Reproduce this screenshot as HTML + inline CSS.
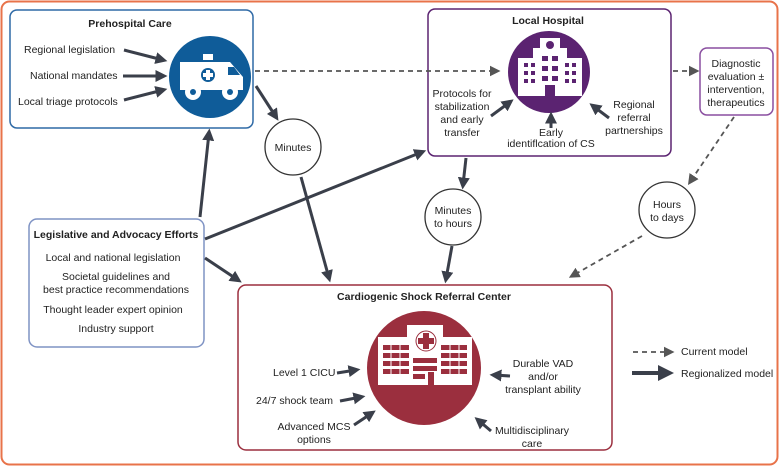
<!DOCTYPE html>
<html><head><meta charset="utf-8"><style>
html,body{margin:0;padding:0;background:#fff}
svg{display:block}
text{font-family:"Liberation Sans",sans-serif;font-size:10.5px;fill:#222}
.b{font-weight:bold}
</style></head><body>
<svg width="780" height="467" viewBox="0 0 780 467" xmlns="http://www.w3.org/2000/svg">
<defs>
<marker id="a" markerWidth="4" markerHeight="4" refX="2.5" refY="2" orient="auto" markerUnits="strokeWidth"><path d="M0,0 L4,2 L0,4 z" fill="#3a3f4a"/></marker>
<marker id="d" markerWidth="6" markerHeight="6" refX="4" refY="3" orient="auto" markerUnits="strokeWidth"><path d="M0,0 L6,3 L0,6 z" fill="#555"/></marker>
</defs>
<rect x="1.5" y="1.5" width="776" height="463" rx="8" fill="#fff" stroke="#e8734a" stroke-width="2"/>

<!-- Prehospital -->
<rect x="10" y="10" width="243" height="118" rx="7" fill="#fff" stroke="#2f6aa6" stroke-width="1.5"/>
<text x="130" y="27" text-anchor="middle" class="b">Prehospital Care</text>
<text x="24" y="53">Regional legislation</text>
<text x="30" y="79">National mandates</text>
<text x="18" y="105">Local triage protocols</text>
<circle cx="210" cy="77" r="41" fill="#0f5c99"/>
<g fill="#fff">
<path d="M180,62 h50 l13,15 v13 h-63z"/>
<rect x="203" y="54" width="10" height="6"/>
<circle cx="193" cy="92" r="8"/><circle cx="230" cy="92" r="8"/>
</g>
<circle cx="193" cy="92" r="3" fill="#0f5c99"/><circle cx="230" cy="92" r="3" fill="#0f5c99"/>
<circle cx="208" cy="75" r="7" fill="#0f5c99"/>
<path d="M206,70h4v3h3v4h-3v3h-4v-3h-3v-4h3z" fill="#fff"/>
<path d="M228,67h6l6,8h-12z" fill="#0f5c99"/>
<g stroke="#3a3f4a" stroke-width="3" fill="none" marker-end="url(#a)">
<line x1="124" y1="50" x2="163" y2="60"/>
<line x1="123" y1="76" x2="163" y2="76"/>
<line x1="124" y1="100" x2="163" y2="90"/>
</g>

<!-- Local Hospital -->
<rect x="428" y="9" width="243" height="147" rx="7" fill="#fff" stroke="#5b2371" stroke-width="1.5"/>
<text x="548" y="24" text-anchor="middle" class="b">Local Hospital</text>
<circle cx="549" cy="72" r="41" fill="#5b2371"/>
<g fill="#fff"><rect x="540" y="38" width="20" height="12"/><rect x="533" y="48" width="34" height="48"/><rect x="518" y="58" width="64" height="38"/></g>
<circle cx="550" cy="45" r="4" fill="#5b2371"/>
<g fill="#5b2371"><rect x="524" y="63" width="4" height="4"/><rect x="531" y="63" width="4" height="4"/><rect x="524" y="71" width="4" height="4"/><rect x="531" y="71" width="4" height="4"/><rect x="524" y="79" width="4" height="4"/><rect x="531" y="79" width="4" height="4"/><rect x="565" y="63" width="4" height="4"/><rect x="572" y="63" width="4" height="4"/><rect x="565" y="71" width="4" height="4"/><rect x="572" y="71" width="4" height="4"/><rect x="565" y="79" width="4" height="4"/><rect x="572" y="79" width="4" height="4"/><rect x="542" y="56" width="6" height="5"/><rect x="552" y="56" width="6" height="5"/><rect x="542" y="66" width="6" height="5"/><rect x="552" y="66" width="6" height="5"/><rect x="542" y="76" width="6" height="5"/><rect x="552" y="76" width="6" height="5"/><rect x="545" y="85" width="10" height="11"/></g>
<text x="462" y="97" text-anchor="middle">Protocols for</text>
<text x="462" y="110" text-anchor="middle">stabilization</text>
<text x="462" y="123" text-anchor="middle">and early</text>
<text x="462" y="136" text-anchor="middle">transfer</text>
<text x="551" y="136" text-anchor="middle">Early</text>
<text x="551" y="147" text-anchor="middle">identiflcation of CS</text>
<text x="634" y="108" text-anchor="middle">Regional</text>
<text x="634" y="121" text-anchor="middle">referral</text>
<text x="634" y="134" text-anchor="middle">partnerships</text>
<g stroke="#3a3f4a" stroke-width="3" fill="none" marker-end="url(#a)">
<line x1="491" y1="116" x2="510" y2="102"/>
<line x1="551" y1="128" x2="551" y2="116"/>
<line x1="609" y1="118" x2="593" y2="106"/>
</g>

<!-- Diagnostic -->
<rect x="700" y="48" width="73" height="67" rx="7" fill="#fff" stroke="#8a4fa0" stroke-width="1.5"/>
<text x="736" y="67" text-anchor="middle">Diagnostic</text>
<text x="736" y="80" text-anchor="middle">evaluation ±</text>
<text x="736" y="93" text-anchor="middle">intervention,</text>
<text x="736" y="106" text-anchor="middle">therapeutics</text>

<!-- dashed -->
<g stroke="#555" stroke-width="1.8" stroke-dasharray="5,4" fill="none" marker-end="url(#d)">
<line x1="255" y1="71" x2="497" y2="71"/>
<line x1="673" y1="71" x2="696" y2="71"/>
<line x1="734" y1="117" x2="690" y2="182"/>
<line x1="642" y1="236" x2="572" y2="276"/>
</g>

<!-- circles -->
<circle cx="293" cy="147" r="28" fill="#fff" stroke="#333" stroke-width="1.3"/>
<text x="293" y="151" text-anchor="middle">Minutes</text>
<circle cx="453" cy="217" r="28" fill="#fff" stroke="#333" stroke-width="1.3"/>
<text x="453" y="214" text-anchor="middle">Minutes</text>
<text x="453" y="227" text-anchor="middle">to hours</text>
<circle cx="667" cy="210" r="28" fill="#fff" stroke="#333" stroke-width="1.3"/>
<text x="667" y="208" text-anchor="middle">Hours</text>
<text x="667" y="221" text-anchor="middle">to days</text>

<!-- Legislative -->
<rect x="29" y="219" width="175" height="128" rx="8" fill="#fff" stroke="#7f93c4" stroke-width="1.5"/>
<text x="116" y="238" text-anchor="middle" class="b">Legislative and Advocacy Efforts</text>
<text x="113" y="261" text-anchor="middle">Local and national legislation</text>
<text x="116" y="280" text-anchor="middle">Societal guidelines and</text>
<text x="116" y="293" text-anchor="middle">best practice recommendations</text>
<text x="113" y="313" text-anchor="middle">Thought leader expert opinion</text>
<text x="116" y="332" text-anchor="middle">Industry support</text>

<!-- solid connectors -->
<g stroke="#3a3f4a" stroke-width="3" fill="none" marker-end="url(#a)">
<line x1="256" y1="86" x2="276" y2="117"/>
<line x1="301" y1="177" x2="329" y2="278"/>
<line x1="200" y1="217" x2="209" y2="133"/>
<line x1="205" y1="239" x2="422" y2="152"/>
<line x1="205" y1="258" x2="238" y2="280"/>
<line x1="466" y1="158" x2="463" y2="185"/>
<line x1="452" y1="246" x2="446" y2="279"/>
</g>

<!-- Referral Center -->
<rect x="238" y="285" width="374" height="165" rx="8" fill="#fff" stroke="#9b2f3e" stroke-width="1.5"/>
<text x="424" y="300" text-anchor="middle" class="b" style="font-weight:bold">Cardiogenic Shock Referral Center</text>
<circle cx="424" cy="368" r="57" fill="#9b2f3e"/>
<g fill="#fff"><rect x="407" y="325" width="36" height="18"/><rect x="378" y="337" width="94" height="10"/><rect x="378" y="343" width="94" height="42"/></g>
<text x="425" y="331" text-anchor="middle" style="font-size:6px;fill:#fff;font-weight:bold">HOSPITAL</text>
<circle cx="426" cy="341" r="10" fill="#fff" stroke="#9b2f3e" stroke-width="1"/>
<path d="M423,333h6v5h5v6h-5v5h-6v-5h-5v-6h5z" fill="#9b2f3e"/>
<g fill="#9b2f3e">
<rect x="383" y="345" width="26" height="5"/><rect x="383" y="353" width="26" height="5"/><rect x="383" y="361" width="26" height="5"/><rect x="383" y="369" width="26" height="5"/>
<rect x="413" y="358" width="24" height="5"/><rect x="413" y="366" width="24" height="5"/><rect x="413" y="374" width="12" height="5"/>
<rect x="441" y="345" width="26" height="5"/><rect x="441" y="353" width="26" height="5"/><rect x="441" y="361" width="26" height="5"/><rect x="441" y="369" width="26" height="5"/>
<rect x="428" y="372" width="6" height="13"/>
</g>
<g stroke="#fff" stroke-width="1"><line x1="391" y1="345" x2="391" y2="374"/><line x1="400" y1="345" x2="400" y2="374"/><line x1="450" y1="345" x2="450" y2="374"/><line x1="459" y1="345" x2="459" y2="374"/></g>
<text x="273" y="376">Level 1 CICU</text>
<text x="256" y="404">24/7 shock team</text>
<text x="314" y="430" text-anchor="middle">Advanced MCS</text>
<text x="314" y="443" text-anchor="middle">options</text>
<text x="543" y="367" text-anchor="middle">Durable VAD</text>
<text x="543" y="380" text-anchor="middle">and/or</text>
<text x="543" y="393" text-anchor="middle">transplant ability</text>
<text x="532" y="434" text-anchor="middle">Multidisciplinary</text>
<text x="532" y="447" text-anchor="middle">care</text>
<g stroke="#3a3f4a" stroke-width="3" fill="none" marker-end="url(#a)">
<line x1="337" y1="373" x2="356" y2="370"/>
<line x1="340" y1="401" x2="361" y2="397"/>
<line x1="354" y1="425" x2="372" y2="413"/>
<line x1="510" y1="376" x2="494" y2="375"/>
<line x1="491" y1="431" x2="478" y2="420"/>
</g>

<!-- Legend -->
<line x1="633" y1="352" x2="671" y2="352" stroke="#555" stroke-width="1.8" stroke-dasharray="5,4" marker-end="url(#d)"/>
<text x="681" y="355">Current model</text>
<line x1="632" y1="373" x2="668" y2="373" stroke="#3a3f4a" stroke-width="4" marker-end="url(#a)"/>
<text x="681" y="377">Regionalized model</text>
</svg>
</body></html>
